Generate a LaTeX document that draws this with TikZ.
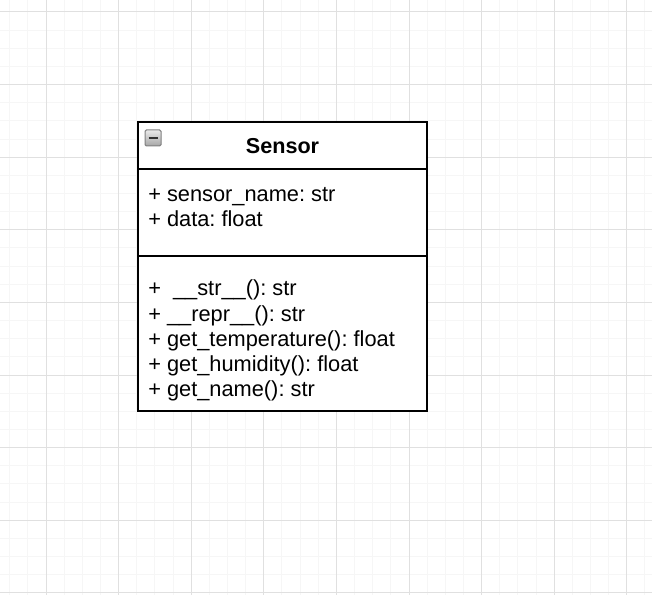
\documentclass[tikz,border=0pt]{standalone}
\usepackage{fontspec}
\setmainfont{Liberation Sans}
\frenchspacing
\begin{document}
\begin{tikzpicture}[x=0.75pt,y=-0.75pt,
  minorgrid/.style={draw=black!3.5, line width=0.75pt},
  majorgrid/.style={draw=black!12, line width=0.75pt},
  umlbox/.style={draw=black, line width=1.5pt},
  member/.style={anchor=base west, inner sep=0pt, font=\fontsize{16.35}{19}\selectfont},
  title/.style={anchor=base, inner sep=0pt, font=\fontsize{16.2}{19}\selectfont\bfseries}]
\useasboundingbox (0,0) rectangle (652,595);
\fill[white] (0,0) rectangle (652,595);
% grid
\foreach \i in {-3,...,33} {
  \draw[minorgrid] ({46+\i*18.15},0) -- ({46+\i*18.15},595);
  \draw[minorgrid] (0,{12+\i*18.15}) -- (652,{12+\i*18.15});
}
\foreach \i in {-1,...,8} {
  \draw[majorgrid] ({46+\i*72.6},0) -- ({46+\i*72.6},595);
  \draw[majorgrid] (0,{12+\i*72.6}) -- (652,{12+\i*72.6});
}
% class box
\fill[white] (138,122) rectangle (427,411);
\draw[umlbox] (138,122) rectangle (427,411);
\draw[umlbox] (138,169) -- (427,169);
\draw[umlbox] (138,256) -- (427,256);
% collapse icon
\shade[top color=black!8, bottom color=black!35, draw=black!50, line width=0.75pt, rounded corners=1pt]
  (145,130) rectangle (161,146);
\draw[black!80, line width=1.5pt] (148.5,138) -- (157.5,138);
% texts
\node[title] (name) at (282.5,153.5) {Sensor};
\node[member] (a1) at (148,201) {+ sensor\_name: str};
\node[member] (a2) at (148,226) {+ data: float};
\node[member] (m1) at (148,295.5) {+ \ \_\_str\_\_(): str};
\node[member] (m2) at (148,321) {+ \_\_repr\_\_(): str};
\node[member] (m3) at (148,346) {+ get\_temperature(): float};
\node[member] (m4) at (148,371) {+ get\_humidity(): float};
\node[member] (m5) at (148,396.5) {+ get\_name(): str};
\end{tikzpicture}
\end{document}
